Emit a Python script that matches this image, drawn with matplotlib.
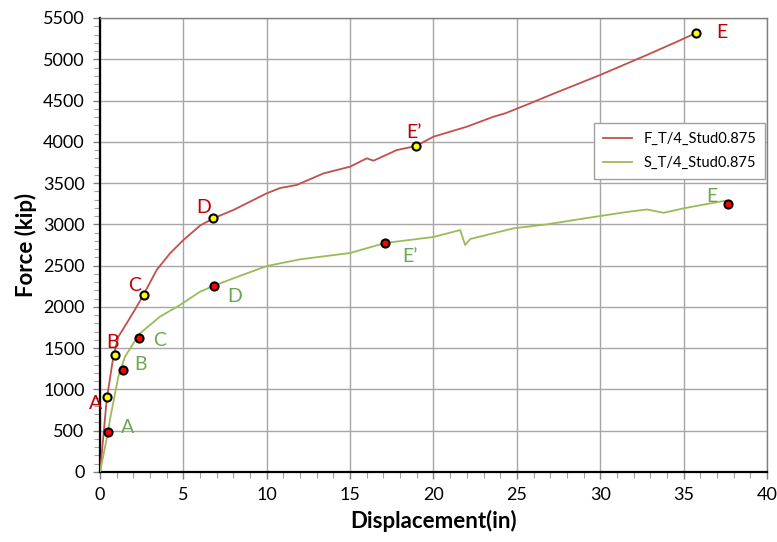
import matplotlib
matplotlib.use("Agg")
import matplotlib.pyplot as plt
from matplotlib.ticker import MultipleLocator

plt.rcParams['font.family'] = ['Lato', 'DejaVu Sans']

# F_T/4_Stud0.875 curve (displacement in, force kip)
f_disp = [0, 0.2, 0.4, 0.8, 1.1, 1.6, 2.2, 2.6, 3.4, 4.2, 5.0, 6.0, 6.8,
          8.0, 10.0, 10.8, 11.8, 13.4, 15.0, 16.0, 16.4, 17.8, 18.95, 20.0, 22.0,
          23.6, 24.3, 25.8, 27.0, 30.0, 32.8, 34.6, 35.74, 35.9]
f_force = [0, 430, 872, 1397, 1639, 1801, 2003, 2144, 2447, 2649, 2810, 2985,
           3073, 3174, 3376, 3440, 3477, 3617, 3699, 3800, 3771, 3900, 3949, 4062,
           4183, 4304, 4345, 4466, 4567, 4810, 5052, 5213, 5318, 5325]

# S_T/4_Stud0.875 curve
s_disp = [0, 0.25, 0.48, 0.6, 1.1, 1.5, 2.0, 2.4, 3.6, 4.8, 6.0, 6.8, 8.0,
          10.0, 12.0, 15.0, 17.09, 20.0, 21.6, 21.9, 22.2, 24.8, 26.8, 29.6, 31.6,
          32.8, 33.8, 35.0, 36.4, 37.5]
s_force = [0, 250, 485, 640, 1155, 1397, 1559, 1680, 1882, 2023, 2184, 2253,
           2346, 2495, 2576, 2653, 2774, 2847, 2931, 2750, 2822, 2952, 3000, 3089,
           3150, 3180, 3140, 3194, 3247, 3286]

f_pts_x = [0.42, 0.9, 2.64, 6.78, 18.95, 35.74]
f_pts_y = [908, 1417, 2144, 3077, 3949, 5318]
s_pts_x = [0.48, 1.38, 2.34, 6.84, 17.09, 37.66]
s_pts_y = [485, 1236, 1623, 2253, 2774, 3247]

f_labels = ["A", "B", "C", "D", "E\u2019", "E"]
f_lab_x = [-0.25, 0.75, 2.05, 6.2, 18.8, 37.3]
f_lab_y = [835, 1570, 2260, 3200, 4110, 5320]
s_labels = ["A", "B", "C", "D", "E\u2019", "E"]
s_lab_x = [1.65, 2.45, 3.6, 8.05, 18.6, 36.7]
s_lab_y = [540, 1300, 1590, 2125, 2605, 3340]

red_line = '#c0504d'
green_line = '#9bbb59'
red_txt = '#c00000'
green_txt = '#6aa84f'

fig = plt.figure(figsize=(7.77, 5.42), dpi=100)
ax = fig.add_axes([0.1287, 0.1292, 0.8584, 0.8376])

ax.plot(f_disp, f_force, color=red_line, lw=1.3, label='F_T/4_Stud0.875', zorder=3)
ax.plot(s_disp, s_force, color=green_line, lw=1.3, label='S_T/4_Stud0.875', zorder=3)

ax.scatter(f_pts_x, f_pts_y, s=34, facecolor='#ffff00', edgecolor='black', lw=1.5, zorder=5)
ax.scatter(s_pts_x, s_pts_y, s=34, facecolor='#ff0000', edgecolor='black', lw=1.5, zorder=5)

for t, x, y in zip(f_labels, f_lab_x, f_lab_y):
    ax.text(x, y, t, color=red_txt, fontsize=14, ha='center', va='center', zorder=6)
for t, x, y in zip(s_labels, s_lab_x, s_lab_y):
    ax.text(x, y, t, color=green_txt, fontsize=14, ha='center', va='center', zorder=6)

ax.set_xlim(0, 40)
ax.set_ylim(0, 5500)
ax.xaxis.set_major_locator(MultipleLocator(5))
ax.xaxis.set_minor_locator(MultipleLocator(1))
ax.yaxis.set_major_locator(MultipleLocator(500))
ax.yaxis.set_minor_locator(MultipleLocator(100))
ax.grid(True, which='major', color='#a6a6a6', lw=1)
ax.set_axisbelow(True)

ax.tick_params(which='major', length=5, width=1, color='#808080', labelsize=13, pad=6)
ax.tick_params(which='minor', length=4, width=0.8, color='#a0a0a0')

for side in ['left', 'bottom']:
    ax.spines[side].set_color('black')
    ax.spines[side].set_linewidth(1.6)
for side in ['top', 'right']:
    ax.spines[side].set_color('#808080')
    ax.spines[side].set_linewidth(1)

ax.set_xlabel('Displacement(in)', fontsize=16, fontweight='bold', labelpad=5)
ax.set_ylabel('Force (kip)', fontsize=16, fontweight='bold', labelpad=4)

leg = ax.legend(loc='upper left', bbox_to_anchor=(0.73, 0.785), fontsize=10.5,
                fancybox=False, edgecolor='#a0a0a0', framealpha=1,
                handlelength=2, borderpad=0.6, labelspacing=0.7)
leg.get_frame().set_linewidth(1)

fig.savefig('out.png', dpi=100)
